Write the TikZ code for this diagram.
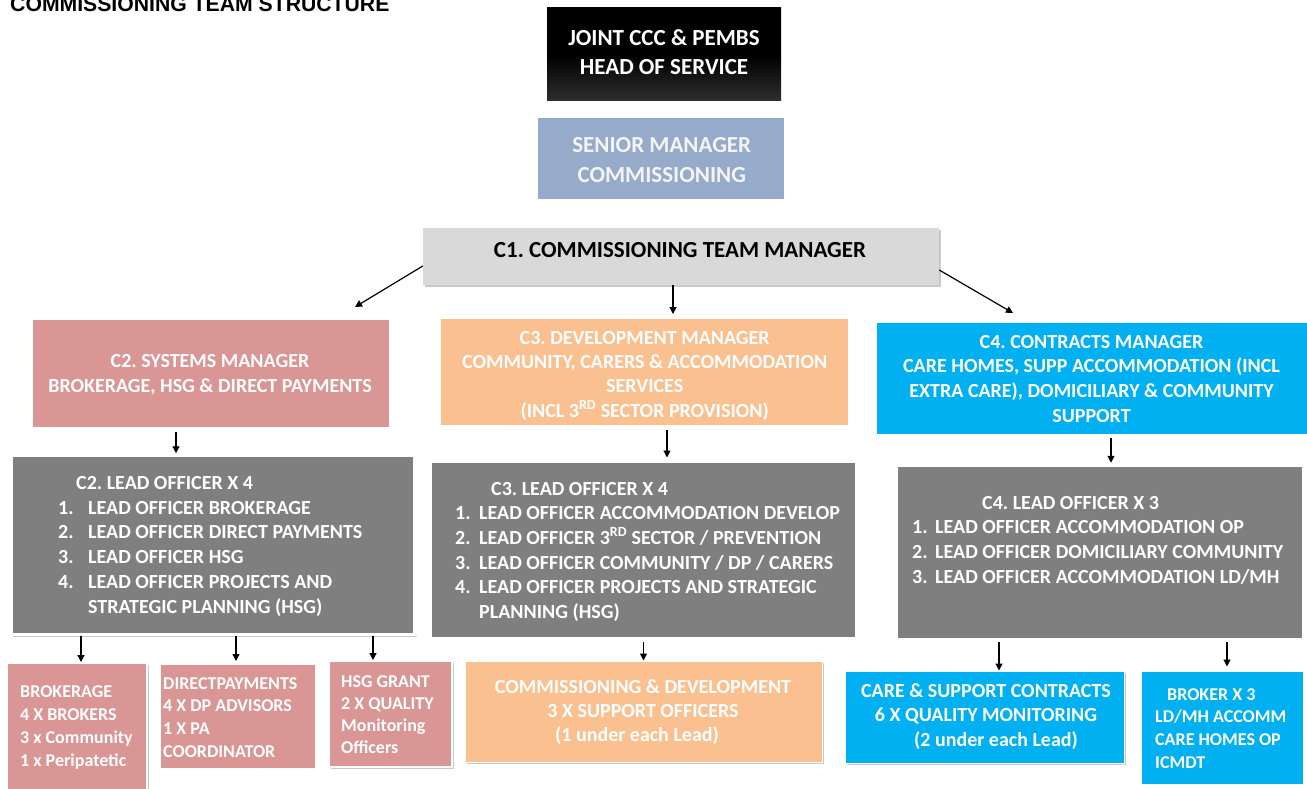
\documentclass[tikz,border=0pt]{standalone}
\usepackage{fontspec}
\setmainfont{Carlito}
\newfontfamily\titlefont{Liberation Sans}
\usetikzlibrary{arrows.meta,shadows,calc}
\definecolor{pinkc}{HTML}{D99694}
\definecolor{orangec}{HTML}{FAC090}
\definecolor{bluec}{HTML}{00B0F0}
\definecolor{grayc}{HTML}{7F7F7F}
\definecolor{lgray}{HTML}{D9D9D9}
\definecolor{steel}{HTML}{95ABC9}
\definecolor{offwhite}{HTML}{F4F4F4}
\newcommand{\sA}{\rule{0pt}{16pt}}
\newcommand{\sB}{\rule{0pt}{18pt}}
\newcommand{\sC}{\rule{0pt}{15pt}}
\frenchspacing
\tikzset{
  bx/.style={rectangle, inner sep=0},
  shd/.style={drop shadow={shadow xshift=1.5pt, shadow yshift=-2pt, opacity=0.35, fill=black!60}},
  wb/.style={draw=white, line width=#1},
  arr/.style={-{Triangle[length=7pt,width=7pt]}, line width=1.2pt, black},
  tA/.style={inner sep=0, align=center, font=\fontsize{23}{29}\selectfont\bfseries},
  tB/.style={inner sep=0, text=white, font=\fontsize{20}{#1}\selectfont\bfseries},
  tC/.style={inner sep=0, text=white, align=left, font=\fontsize{18}{#1}\selectfont\bfseries},
}
\begin{document}
\begin{tikzpicture}[x=1pt,y=-1pt]
\useasboundingbox (0,0) rectangle (1307,789);
\fill[white] (0,0) rectangle (1307,789);

% title
\node[anchor=base west, inner sep=0, font={\titlefont\fontsize{21.2}{24}\selectfont\bfseries}] (title) at (10,11.5) {COMMISSIONING TEAM STRUCTURE};

% boxes
\node[bx, minimum width=234pt, minimum height=93pt, top color=black, bottom color=black!82, middle color=black] (head) at (664,54.5) {};
\node[bx, minimum width=246pt, minimum height=81pt, fill=steel] (senior) at (661,158.5) {};
\node[bx, minimum width=516pt, minimum height=57pt, fill=lgray, shd] (c1) at (681,256.5) {};

\node[bx, minimum width=361pt, minimum height=112pt, fill=pinkc, wb=5pt, shd] (c2m) at (211,373.5) {};
\node[bx, minimum width=412pt, minimum height=111pt, fill=orangec, wb=5pt, shd] (c3m) at (644.5,372) {};
\node[bx, minimum width=434pt, minimum height=115.5pt, fill=bluec, wb=4.5pt, shd] (c4m) at (1092,378.25) {};

\node[bx, minimum width=403.5pt, minimum height=179.5pt, fill=grayc, wb=3.5pt, shd] (c2l) at (213.25,544.75) {};
\node[bx, minimum width=428pt, minimum height=179.5pt, fill=grayc, wb=5pt, shd] (c3l) at (643.5,549.75) {};
\node[bx, minimum width=408.5pt, minimum height=175pt, fill=grayc, wb=4.5pt, shd] (c4l) at (1100.25,552.5) {};

\node[bx, minimum width=140pt, minimum height=129pt, fill=pinkc, wb=2pt, shd] (brok) at (77,727.5) {};
\node[bx, minimum width=158pt, minimum height=107pt, fill=pinkc, wb=4pt, shd] (dp) at (238,716.5) {};
\node[bx, minimum width=123pt, minimum height=106pt, fill=pinkc, wb=2pt, shd] (hsg) at (390.5,714) {};
\node[bx, minimum width=357pt, minimum height=101pt, fill=orangec, wb=1pt, shd] (c3b) at (643.5,711.5) {};
\node[bx, minimum width=279pt, minimum height=92pt, fill=bluec, wb=1pt, shd] (c4b) at (984.5,717) {};
\node[bx, minimum width=165.5pt, minimum height=117.5pt, fill=bluec, wb=5pt, shd] (brk) at (1222.25,727.75) {};

% texts
\node[tA, text=white, anchor=north] (headt) at (664,27) {\sB JOINT CCC \& PEMBS\\HEAD OF SERVICE};
\node[tA, text=offwhite, anchor=north, font=\fontsize{23}{30}\selectfont\bfseries] (seniort) at (661.7,134) {\sB SENIOR MANAGER\\COMMISSIONING};
\node[tA, text=black, anchor=north] (c1t) at (680,239) {\sB C1. COMMISSIONING TEAM MANAGER};

\node[tB=25, align=center, anchor=north] (c2mt) at (210,351) {\sA C2. SYSTEMS MANAGER\\BROKERAGE, HSG \& DIRECT PAYMENTS};
\node[tB=24.3, align=center, anchor=north] (c3mt) at (644.7,328) {\sA C3. DEVELOPMENT MANAGER\\COMMUNITY, CARERS \& ACCOMMODATION\\SERVICES\\(INCL 3\textsuperscript{RD} SECTOR PROVISION)};
\node[tB=24.7, align=center, anchor=north] (c4mt) at (1091.5,332) {\sA C4. CONTRACTS MANAGER\\CARE HOMES, SUPP ACCOMMODATION (INCL\\EXTRA CARE), DOMICILIARY \& COMMUNITY\\SUPPORT};

\node[tB=24.8, align=left, anchor=north west] (c2lt) at (58,473) {\sA\hspace*{18pt}C2. LEAD OFFICER X 4\\
\makebox[30pt][l]{1.}LEAD OFFICER BROKERAGE\\
\makebox[30pt][l]{2.}LEAD OFFICER DIRECT PAYMENTS\\
\makebox[30pt][l]{3.}LEAD OFFICER HSG\\
\makebox[30pt][l]{4.}LEAD OFFICER PROJECTS AND\\
\makebox[30pt][l]{}STRATEGIC PLANNING (HSG)};

\node[tB=24.6, align=left, anchor=north west] (c3lt) at (455,479) {\sA\hspace*{36pt}C3. LEAD OFFICER X 4\\
\makebox[24pt][l]{1.}LEAD OFFICER ACCOMMODATION DEVELOP\\
\makebox[24pt][l]{2.}LEAD OFFICER 3\textsuperscript{RD} SECTOR / PREVENTION\\
\makebox[24pt][l]{3.}LEAD OFFICER COMMUNITY / DP / CARERS\\
\makebox[24pt][l]{4.}LEAD OFFICER PROJECTS AND STRATEGIC\\
\makebox[24pt][l]{}PLANNING (HSG)};

\node[tB=24.7, align=left, anchor=north west] (c4lt) at (912,493) {\sA\hspace*{70pt}C4. LEAD OFFICER X 3\\
\makebox[23pt][l]{1.}LEAD OFFICER ACCOMMODATION OP\\
\makebox[23pt][l]{2.}LEAD OFFICER DOMICILIARY COMMUNITY\\
\makebox[23pt][l]{3.}LEAD OFFICER ACCOMMODATION LD/MH};

\node[tC=23, anchor=north west] (brokt) at (20,682) {\sC BROKERAGE\\4 X BROKERS\\3 x Community\\1 x Peripatetic};
\node[tC=22.7, anchor=north west] (dpt) at (163,674) {\sC DIRECTPAYMENTS\\4 X DP ADVISORS\\1 X PA\\COORDINATOR};
\node[tC=22, anchor=north west] (hsgt) at (341,672) {\sC HSG GRANT\\2 X QUALITY\\Monitoring\\Officers};
\node[tB=24, align=center, anchor=north] (c3bt) at (643,677) {\sA COMMISSIONING \& DEVELOPMENT\\3 X SUPPORT OFFICERS\\(1 under each Lead)\hspace*{12pt}};
\node[tB=24.5, align=center, anchor=north] (c4bt) at (986,681) {\sA CARE \& SUPPORT CONTRACTS\\6 X QUALITY MONITORING\\\hspace*{20pt}(2 under each Lead)};
\node[tC=22.7, anchor=north west] (brkt) at (1155,685) {\sC\hspace*{12pt}BROKER X 3\\LD/MH ACCOMM\\CARE HOMES OP\\ICMDT};

% connectors
\coordinate (c2in) at (355,307);
\coordinate (c4in) at (1013,313);
\draw[arr] ([yshift=-9.5pt]c1.west) -- (c2in);
\draw[arr] ($(c1.south)+(-8,0)$) -- ($(c1.south |- c3m.north)+(-8,0)$);
\draw[arr] ([yshift=-13.5pt]c1.east) -- (c4in);
\draw[arr] ($(c2m.south)+(-35,0)$) -- ($(c2m.south |- c2l.north)+(-35,0)$);
\draw[arr] ($(c3m.south)+(22.5,0)$) -- ($(c3m.south |- c3l.north)+(22.5,0)$);
\draw[arr] ($(c4m.south)+(19,0)$) -- ($(c4m.south |- c4l.north)+(19,0)$);
\draw[arr] ($(c2l.south -| brok.north)+(4,0)$) -- ($(brok.north)+(4,0)$);
\draw[arr] ($(c2l.south -| dp.north)+(-2,0)$) -- ($(dp.north)+(-2,0)$);
\draw[arr] ($(c2l.south -| hsg.north)+(-17.5,0)$) -- ($(hsg.north)+(-17.5,0)$);
\draw[arr] (c3l.south -| c3b.north) -- (c3b.north);
\draw[arr] ($(c4l.south -| c4b.north)+(14.5,0)$) -- ($(c4b.north)+(14.5,0)$);
\draw[arr] ($(c4l.south -| brk.north)+(4.75,0)$) -- ($(brk.north)+(4.75,0)$);
\end{tikzpicture}
\end{document}
